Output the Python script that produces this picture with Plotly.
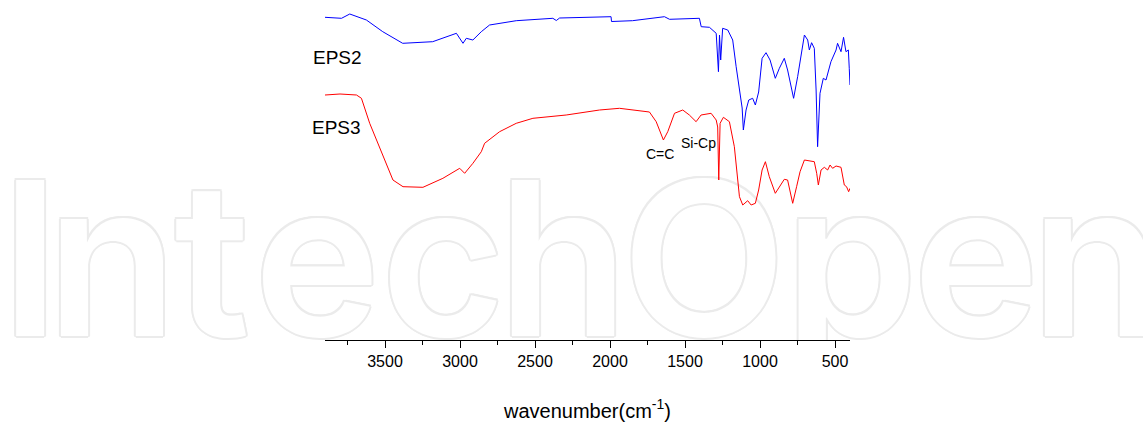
import plotly.graph_objects as go

# FTIR spectra (wavenumber in cm-1, transmittance in a.u.)
eps2_wn = [3900, 3790, 3735, 3624, 3515, 3382, 3182, 3091, 3024, 2980, 2958, 2914,
           2858, 2803, 2625, 2381, 2358, 2336, 2070, 1993, 1990, 1850, 1637, 1603,
           1404, 1392, 1337, 1292, 1277, 1270, 1262, 1249, 1215, 1182, 1159, 1137,
           1119, 1111, 1093, 1075, 1049, 1031, 1009, 986, 960, 933, 898, 871, 838,
           816, 776, 749, 726, 704, 682, 671, 656, 638, 626, 616, 600, 578, 560,
           527, 493, 483, 460, 443, 427, 411, 405, 400]
eps2_t = [322.7, 321.7, 326.0, 320.0, 308.3, 296.7, 298.3, 303.3, 306.7, 296.7, 301.7, 300.0,
          308.3, 315.0, 319.3, 321.7, 319.5, 322.0, 323.3, 323.3, 318.5, 319.3, 323.3, 320.7,
          321.7, 313.3, 312.7, 306.7, 268.3, 305.0, 280.0, 311.7, 310.0, 300.0, 273.3, 248.3,
          232.0, 210.0, 230.0, 240.0, 241.7, 235.0, 248.0, 281.7, 287.3, 280.0, 261.7, 271.7, 281.7,
          270.0, 241.7, 263.3, 285.0, 305.0, 300.0, 290.0, 297.3, 291.7, 250.0, 193.3, 246.7, 261.7, 260.0,
          278.3, 290.0, 296.7, 288.3, 302.7, 288.3, 290.0, 271.7, 255.0]

eps3_wn = [3900, 3800, 3690, 3657, 3602, 3513, 3447, 3380, 3247, 3114, 3002, 2969,
           2914, 2858, 2836, 2736, 2625, 2514, 2292, 2070, 1937, 1737, 1692, 1644,
           1615, 1570, 1515, 1471, 1426, 1393, 1326, 1292, 1282, 1275, 1266, 1244,
           1204, 1171, 1155, 1137, 1115, 1082, 1059, 1031, 1009, 986, 964, 938, 898,
           871, 838, 816, 800, 782, 756, 733, 704, 638, 622, 611, 593, 571, 549,
           533, 516, 493, 460, 438, 423, 409, 400]
eps3_t = [245.0, 246.0, 245.0, 241.7, 216.7, 183.3, 160.0, 153.3, 152.7, 161.7, 171.7, 166.7,
          176.7, 188.3, 196.7, 208.3, 216.7, 221.7, 225.0, 230.0, 231.7, 228.0, 218.3, 200.0,
          208.3, 226.7, 230.0, 225.0, 218.3, 225.0, 226.7, 220.0, 213.0, 160.0, 216.7, 222.7,
          218.3, 193.3, 166.7, 143.3, 135.0, 139.3, 135.0, 136.7, 150.0, 170.0, 178.3, 163.3, 146.7,
          153.3, 160.7, 160.0, 150.0, 136.7, 153.3, 168.3, 180.0, 178.3, 166.7, 155.0, 170.0, 172.7, 170.0,
          175.0, 171.7, 174.0, 172.7, 155.0, 153.3, 148.3, 151.7]

# background watermark letters
wm_letters = list("IntechOpen")
wm_x = [30, 112, 212, 317, 443, 563, 704, 851, 976, 1096]

fig = go.Figure()

outline = "#ebebeb"
shadow = ", ".join(f"{dx}px {dy}px 0 {outline}" for dx, dy in
                   [(2, 0), (-2, 0), (0, 2), (0, -2), (1.5, 1.5), (-1.5, 1.5), (1.5, -1.5), (-1.5, -1.5)])
fig.add_trace(go.Scatter(
    x=wm_x, y=[282] * len(wm_x), text=wm_letters, mode="text",
    textposition="middle center", cliponaxis=True,
    textfont=dict(family="Inter, DejaVu Sans", size=214, weight=600, color="white", shadow=shadow),
    hoverinfo="skip", showlegend=False, xaxis="x", yaxis="y"))

fig.add_trace(go.Scatter(x=eps2_wn, y=eps2_t, mode="lines", name="EPS2",
                         line=dict(color="#0000ff", width=1), xaxis="x2", yaxis="y2"))
fig.add_trace(go.Scatter(x=eps3_wn, y=eps3_t, mode="lines", name="EPS3",
                         line=dict(color="#ff0000", width=1), xaxis="x2", yaxis="y2"))

font = "Arial, Liberation Sans, sans-serif"
W, H = 1143, 425

fig.update_layout(
    width=W, height=H, margin=dict(l=0, r=0, t=0, b=85),
    paper_bgcolor="white", plot_bgcolor="rgba(0,0,0,0)",
    showlegend=False,
    font=dict(family=font, color="black"),
    xaxis=dict(domain=[0, 1], range=[0, W], visible=False, fixedrange=True),
    yaxis=dict(domain=[0, 1], range=[340, 0], visible=False, fixedrange=True),
    xaxis2=dict(domain=[325 / W, 850 / W], range=[3900, 400], anchor="y2",
                showline=True, linecolor="black", linewidth=1,
                ticks="outside", ticklen=7, tickcolor="black", tickwidth=1,
                tick0=500, dtick=500, showgrid=False, zeroline=False,
                minor=dict(dtick=250, ticks="outside", ticklen=4, tickcolor="black"),
                tickfont=dict(family=font, size=16, color="black"),
                title=dict(text="wavenumber(cm<sup>-1</sup>)", standoff=34,
                           font=dict(family=font, size=20, color="black"))),
    yaxis2=dict(domain=[0, 1], range=[0, 340], anchor="x2", visible=False),
)

labels = [("EPS2", 311, 58, 19), ("EPS3", 310, 127, 19),
          ("C=C", 644, 154, 14), ("Si-Cp", 679, 143, 14)]
for txt, px, py, sz in labels:
    fig.add_annotation(text=txt, xref="paper", yref="paper", x=px / W, y=(340 - py) / 340,
                       xanchor="left", yanchor="middle", showarrow=False,
                       font=dict(family=font, size=sz, color="black"))

fig.write_html("out.html", config={"displayModeBar": False},
               post_script="document.body.style.margin = '0';")
